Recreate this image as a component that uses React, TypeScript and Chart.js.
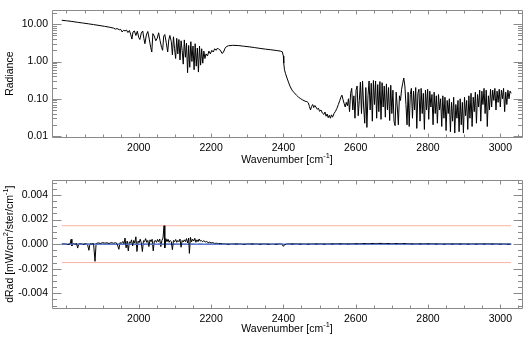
import React, { useEffect, useRef } from "react";
import { Chart, registerables } from "chart.js";
Chart.register(...registerables);

const FONT = "'Liberation Sans', Arial, Helvetica, sans-serif";
const FONT_SIZE = 10.5;
const TEXT = "#000000";
const FRAME = "#8a8a8a";

// ---------- axes ----------
const wavenumberRange = [1760, 3060];
const wavenumberTicks = [2000, 2200, 2400, 2600, 2800, 3000];
const radianceRange = [0.0094, 23.7];
const radianceTicks = [0.01, 0.1, 1, 10];
const radianceTickLabels = ["0.01", "0.10", "1.00", "10.00"];
const dradRange = [-0.0052, 0.0052];
const dradTicks = [-0.004, -0.002, 0, 0.002, 0.004];
const dradTickLabels = ["-0.004", "-0.002", "0.000", "0.002", "0.004"];
const dradLimits = [0.0015, -0.0015];
const dataSpan = [1787, 3030];

// ---------- radiance spectrum [wavenumber, radiance] ----------
const radianceWarm = [
  [1787, 12.8], [1800, 12.4], [1815, 11.9], [1830, 11.3], [1845, 10.8], [1860, 10.3],
  [1875, 9.8], [1890, 9.3], [1905, 8.8], [1920, 8.3], [1930, 7.9], [1936, 7.4],
  [1940, 7.7], [1946, 7.1], [1950, 7.3], [1954, 6.2], [1958, 6.9], [1962, 6.6],
  [1966, 7.0], [1970, 6.0], [1974, 6.8], [1978, 5.2], [1981, 4.0], [1984, 6.2],
  [1988, 6.6], [1992, 5.0], [1996, 6.5], [2000, 4.4], [2003, 3.9], [2007, 5.8],
  [2011, 6.6], [2014, 4.2], [2017, 3.0], [2021, 5.2], [2025, 6.4], [2029, 4.0],
  [2033, 2.4], [2036, 1.8], [2039, 5.6], [2043, 4.8], [2047, 3.6], [2051, 4.2],
  [2055, 5.9], [2059, 3.6], [2063, 2.4], [2066, 2.0], [2069, 4.8], [2072, 5.3],
  [2076, 3.2], [2080, 1.8], [2083, 3.8], [2086, 5.0],
];
const radianceCoBand = [
  [2090, 3.4], [2093, 1.5], [2096, 4.6], [2099, 2.2], [2102, 1.2], [2105, 4.2],
  [2108, 1.6], [2111, 3.9], [2114, 1.1], [2117, 3.6], [2120, 2.0], [2123, 0.85],
  [2126, 3.8], [2129, 1.3], [2132, 3.1], [2135, 0.5], [2138, 2.7], [2141, 0.7],
  [2144, 3.4], [2147, 1.0], [2150, 2.6], [2153, 0.6], [2156, 3.0], [2159, 0.75],
  [2162, 2.3], [2165, 0.52], [2168, 2.6], [2171, 0.8], [2174, 2.2], [2177, 0.9],
  [2180, 1.9], [2183, 1.2], [2186, 1.6], [2190, 1.4], [2194, 1.9], [2198, 1.6],
  [2202, 2.0], [2206, 1.8], [2210, 2.2], [2214, 2.0], [2218, 2.3], [2222, 2.1],
  [2226, 2.0], [2230, 1.65], [2234, 1.75], [2238, 2.2], [2242, 2.5], [2248, 2.65],
];
const radianceEdge = [
  [2260, 2.72], [2275, 2.68], [2290, 2.58], [2305, 2.48], [2320, 2.37], [2335, 2.25],
  [2350, 2.15], [2365, 2.07], [2380, 1.98], [2392, 1.9], [2397, 1.82], [2400, 1.4],
  [2401, 0.9], [2403, 0.6], [2406, 0.47], [2410, 0.36], [2414, 0.28], [2418, 0.22],
  [2424, 0.17], [2430, 0.145], [2436, 0.125], [2442, 0.11], [2448, 0.1], [2454, 0.092],
  [2460, 0.086], [2465, 0.084], [2469, 0.078], [2472, 0.062], [2475, 0.05], [2478, 0.062],
  [2481, 0.07], [2484, 0.058], [2487, 0.066], [2490, 0.06], [2494, 0.052], [2497, 0.056],
  [2500, 0.046], [2504, 0.05], [2508, 0.041], [2512, 0.038], [2515, 0.044], [2518, 0.034],
  [2521, 0.039], [2524, 0.031], [2527, 0.036], [2530, 0.03], [2533, 0.037], [2536, 0.032],
  [2540, 0.04], [2544, 0.046], [2548, 0.055], [2552, 0.07], [2556, 0.09], [2559, 0.11],
  [2562, 0.125], [2565, 0.095], [2568, 0.075], [2571, 0.06], [2574, 0.08], [2577, 0.065],
];
const radianceH2oBand = [
  [2580, 0.1], [2583, 0.045], [2586, 0.14], [2589, 0.19], [2592, 0.05], [2595, 0.12],
  [2598, 0.03], [2601, 0.17], [2604, 0.22], [2607, 0.035], [2610, 0.09], [2613, 0.28],
  [2616, 0.04], [2619, 0.3], [2622, 0.06], [2625, 0.022], [2628, 0.2], [2631, 0.017],
  [2634, 0.12], [2637, 0.3], [2640, 0.05], [2643, 0.26], [2646, 0.025], [2649, 0.31],
  [2652, 0.07], [2655, 0.3], [2658, 0.03], [2661, 0.24], [2664, 0.045], [2667, 0.29],
  [2670, 0.028], [2673, 0.27], [2676, 0.06], [2679, 0.22], [2682, 0.032], [2685, 0.25],
  [2688, 0.05], [2691, 0.2], [2694, 0.026], [2697, 0.23], [2700, 0.04], [2703, 0.17],
  [2706, 0.025], [2709, 0.019], [2712, 0.15], [2715, 0.06], [2718, 0.02], [2721, 0.12],
  [2724, 0.09], [2727, 0.18], [2730, 0.26], [2733, 0.36], [2736, 0.22], [2739, 0.07],
  [2742, 0.02], [2745, 0.15], [2748, 0.018], [2751, 0.13], [2754, 0.19], [2757, 0.03],
  [2760, 0.16], [2763, 0.05], [2766, 0.2], [2769, 0.016], [2772, 0.14], [2775, 0.18],
  [2778, 0.025], [2781, 0.19], [2784, 0.04], [2787, 0.14], [2790, 0.015], [2793, 0.17],
  [2796, 0.05], [2799, 0.18], [2802, 0.028], [2805, 0.16], [2808, 0.06], [2811, 0.13],
  [2814, 0.02], [2817, 0.15], [2820, 0.04], [2823, 0.12], [2826, 0.022], [2829, 0.13],
  [2832, 0.05], [2835, 0.1], [2838, 0.018], [2841, 0.12], [2844, 0.03], [2847, 0.11],
  [2850, 0.014], [2853, 0.09], [2856, 0.04], [2859, 0.1], [2862, 0.013], [2865, 0.08],
  [2868, 0.025], [2871, 0.11], [2874, 0.012], [2877, 0.07], [2880, 0.03], [2883, 0.09],
  [2886, 0.013], [2889, 0.1], [2892, 0.02], [2895, 0.08], [2898, 0.012], [2901, 0.11],
  [2904, 0.035], [2907, 0.09], [2910, 0.015], [2913, 0.12], [2916, 0.03], [2919, 0.14],
  [2922, 0.018], [2925, 0.11], [2928, 0.045], [2931, 0.15], [2934, 0.022], [2937, 0.13],
  [2940, 0.06], [2943, 0.17], [2946, 0.025], [2949, 0.16], [2952, 0.07], [2955, 0.19],
  [2958, 0.04], [2961, 0.17], [2964, 0.018], [2967, 0.12], [2970, 0.05], [2973, 0.18],
  [2976, 0.06], [2979, 0.17], [2982, 0.09], [2985, 0.19], [2988, 0.05], [2991, 0.16],
  [2994, 0.08], [2997, 0.18], [3000, 0.06], [3003, 0.17], [3006, 0.1], [3009, 0.19],
  [3012, 0.045], [3015, 0.15], [3018, 0.07], [3021, 0.17], [3024, 0.1], [3027, 0.16],
  [3030, 0.14],
];

// ---------- residual dRad [wavenumber, dRad] ----------
const residualLow = [
  [1787, 0], [1795, 0.00002], [1803, -0.00003], [1810, 0.00001], [1813, 0.0004], [1815, -0.00015],
  [1818, 0.00003], [1824, 0], [1828, 0.00005], [1831, -0.00032], [1834, 0.00002], [1840, 0.00004],
  [1846, -0.00002], [1852, 0.00003], [1858, 0.00001], [1862, -0.0005], [1865, 0.00003], [1870, 0.00002],
  [1875, 0.00004], [1879, -0.0014], [1882, 0.00005], [1888, 0.0001], [1894, 0.00006], [1900, 0.00012],
  [1906, 0.00008], [1912, 0.00011], [1918, 0.00005], [1924, 0.00013], [1930, 0.00007], [1936, 0.00012],
  [1940, 0.00004], [1945, -0.00042], [1948, 0.00012], [1952, 0.00006], [1956, 0.00022], [1959, 0.00004],
  [1962, 0.0005], [1965, -0.0003], [1968, 0.00025], [1971, -0.00055], [1974, 0.00018], [1977, 0.0001],
  [1980, 0.00035], [1983, -0.00015], [1986, 0.0003], [1989, 0.0001], [1992, 0.0006], [1995, -0.0006],
  [1998, 0.00025], [2001, 0.00012], [2004, 0.0004], [2007, 0.0001], [2010, -0.0006], [2013, 0.00028],
  [2016, 0.0002], [2019, 0.00045], [2022, 0.00015], [2025, 0.0003], [2028, -0.0002], [2031, 0.00035],
  [2034, 0.0002], [2037, 0.0004], [2040, -0.00055], [2043, 0.00025], [2046, 0.0003], [2049, 0.00015],
  [2052, 0.00038], [2055, 0.0002], [2058, 0.00042], [2061, -0.0002], [2064, 0.0003], [2067, 0.0005],
  [2070, 0.0015], [2072, -0.0003], [2075, 0.00045], [2078, 0.0002], [2081, 0.0004], [2084, 0.00015],
];
const residualMid = [
  [2087, 0.0003], [2090, 0.0002], [2093, -0.00045], [2096, 0.0003], [2099, 0.0002], [2102, 0.00038],
  [2105, 0.00015], [2108, 0.0003], [2111, 0.0002], [2114, 0.00042], [2117, -0.00025], [2120, 0.0003],
  [2123, 0.00018], [2126, 0.00035], [2129, 0.0002], [2132, 0.00045], [2135, 0.0001], [2138, 0.0005],
  [2140, -0.00075], [2143, 0.00055], [2146, 0.0002], [2149, 0.0004], [2152, 0.00025], [2155, 0.00048],
  [2158, 0.00015], [2161, 0.00035], [2164, 0.0002], [2167, 0.00042], [2170, 0.00025], [2173, 0.0003],
  [2176, 0.0002], [2180, 0.00028], [2184, 0.00018], [2188, 0.00022], [2192, 0.00012], [2196, 0.00016],
  [2200, 0.0001], [2205, 0.00012], [2210, 0.00006], [2215, 0.00008], [2220, 0.00004], [2225, 0.00005],
  [2232, 0.00002], [2240, 0.00001],
];
const residualHigh = [
  [2250, 0], [2270, 0.00002], [2290, -0.00001], [2310, 0.00002], [2330, 0], [2350, 0.00001],
  [2370, -0.00001], [2390, 0.00001], [2396, 0], [2400, -0.00018], [2403, -0.00005], [2410, 0.00001],
  [2430, 0.00002], [2460, 0], [2490, 0.00002], [2520, 0.00001], [2550, 0.00003], [2580, 0.00002],
  [2610, 0.00004], [2640, 0.00005], [2670, 0.00006], [2700, 0.00004], [2730, 0.00005], [2760, 0.00002],
  [2800, 0.00003], [2840, 0.00001], [2880, 0.00002], [2920, 0.00001], [2960, 0.00002], [3000, 0.00001],
  [3030, 0],
];

const radianceSeries = [...radianceWarm, ...radianceCoBand, ...radianceEdge, ...radianceH2oBand];
const residualSeries = [...residualLow, ...residualMid, ...residualHigh];

const toXY = (arr: number[][]) => arr.map(([x, y]) => ({ x, y }));

type Part = { t: string; sup?: boolean };

function drawRich(ctx: CanvasRenderingContext2D, parts: Part[], cx: number, cy: number, rotate: boolean) {
  ctx.save();
  ctx.translate(cx, cy);
  if (rotate) ctx.rotate(-Math.PI / 2);
  const supSize = FONT_SIZE * 0.7;
  let total = 0;
  const widths = parts.map((p) => {
    ctx.font = `${p.sup ? supSize : FONT_SIZE}px ${FONT}`;
    const w = ctx.measureText(p.t).width;
    total += w;
    return w;
  });
  let x = -total / 2;
  ctx.textBaseline = "middle";
  ctx.textAlign = "left";
  ctx.fillStyle = TEXT;
  parts.forEach((p, i) => {
    ctx.font = `${p.sup ? supSize : FONT_SIZE}px ${FONT}`;
    ctx.fillText(p.t, x, p.sup ? -FONT_SIZE * 0.38 : 0);
    x += widths[i];
  });
  ctx.restore();
}

const idlFrame = {
  id: "idlFrame",
  afterDatasetsDraw(chart: any, _args: any, opts: any) {
    const { ctx, chartArea: a, scales } = chart;
    const xs = scales.x;
    const ys = scales.y;
    const L = Math.round(a.left) + 0.5;
    const R = Math.round(a.right) + 0.5;
    const T = Math.round(a.top) + 0.5;
    const B = Math.round(a.bottom) + 0.5;
    ctx.save();
    ctx.strokeStyle = FRAME;
    ctx.lineWidth = 1;
    ctx.beginPath();
    ctx.moveTo(L, T); ctx.lineTo(R, T); ctx.lineTo(R, B); ctx.lineTo(L, B); ctx.closePath();
    const xt = (v: number, len: number) => {
      const p = Math.round(xs.getPixelForValue(v)) + 0.5;
      if (p < L || p > R) return;
      ctx.moveTo(p, B); ctx.lineTo(p, B - len);
      ctx.moveTo(p, T); ctx.lineTo(p, T + len);
    };
    const yt = (v: number, len: number) => {
      const p = Math.round(ys.getPixelForValue(v)) + 0.5;
      if (p < T - 0.1 || p > B + 0.1) return;
      ctx.moveTo(L, p); ctx.lineTo(L + len, p);
      ctx.moveTo(R, p); ctx.lineTo(R - len, p);
    };
    opts.xMinor.forEach((v: number) => xt(v, 3));
    opts.xMajor.forEach((v: number) => xt(v, 4));
    opts.yMinor.forEach((v: number) => yt(v, 4.5));
    opts.yMajor.forEach((v: number) => yt(v, 9));
    ctx.stroke();
    ctx.restore();
    drawRich(ctx, opts.xTitle, (a.left + a.right) / 2, opts.xTitleY, false);
    drawRich(ctx, opts.yTitle, opts.yTitleX, (a.top + a.bottom) / 2, true);
  },
};

const xMinorTicks: number[] = [];
for (let v = 1800; v <= 3050; v += 50) xMinorTicks.push(v);
const logMinorTicks: number[] = [];
[0.001, 0.01, 0.1, 1, 10].forEach((d) => {
  for (let m = 2; m <= 9; m++) logMinorTicks.push(d * m);
});
const dradMinorTicks: number[] = [];
for (let k = -10; k <= 10; k++) dradMinorTicks.push(k * 0.0005);

const tickFont = { family: FONT, size: FONT_SIZE };

const xTitle: Part[] = [{ t: "Wavenumber [cm" }, { t: "-1", sup: true }, { t: "]" }];

function xScale(height: number, pad: number) {
  return {
    type: "linear",
    min: wavenumberRange[0],
    max: wavenumberRange[1],
    grid: { display: false, drawTicks: false },
    border: { display: false },
    afterBuildTicks: (s: any) => {
      s.ticks = wavenumberTicks.map((v) => ({ value: v }));
    },
    afterFit: (s: any) => {
      s.height = height;
    },
    ticks: {
      autoSkip: false,
      maxRotation: 0,
      padding: pad,
      color: TEXT,
      font: tickFont,
      callback: (v: number) => String(v),
    },
  };
}

function App() {
  const topRef = useRef<HTMLCanvasElement>(null);
  const botRef = useRef<HTMLCanvasElement>(null);

  useEffect(() => {
    document.body.style.margin = "0";
    const top = new Chart(topRef.current!, {
      type: "line",
      data: {
        datasets: [
          {
            data: toXY(radianceSeries),
            borderColor: "#000000",
            borderWidth: 1,
            pointRadius: 0,
            tension: 0,
          },
        ],
      },
      options: {
        animation: false,
        responsive: false,
        devicePixelRatio: 1,
        events: [],
        layout: { padding: { top: 10, right: 9, left: 0, bottom: 0 } },
        plugins: {
          legend: { display: false },
          tooltip: { enabled: false },
          idlFrame: {
            xMajor: wavenumberTicks,
            xMinor: xMinorTicks,
            yMajor: radianceTicks,
            yMinor: logMinorTicks,
            xTitle,
            xTitleY: 160,
            yTitle: [{ t: "Radiance" }],
            yTitleX: 10.5,
          },
        } as any,
        scales: {
          x: xScale(33, 5) as any,
          y: {
            type: "logarithmic",
            min: radianceRange[0],
            max: radianceRange[1],
            grid: { display: false, drawTicks: false },
            border: { display: false },
            afterBuildTicks: (s: any) => {
              s.ticks = radianceTicks.map((v) => ({ value: v }));
            },
            afterFit: (s: any) => {
              s.width = 52;
            },
            ticks: {
              autoSkip: false,
              padding: 4,
              color: TEXT,
              font: tickFont,
              callback: (_v: any, i: number) => radianceTickLabels[i],
            },
          },
        },
      },
      plugins: [idlFrame],
    });

    const bot = new Chart(botRef.current!, {
      type: "line",
      data: {
        datasets: [
          {
            data: toXY([[dataSpan[0], 0], [dataSpan[1], 0]]),
            borderColor: "rgba(90,120,205,0.9)",
            borderWidth: 1.5,
            borderDash: [5, 3],
            pointRadius: 0,
          },
          {
            data: toXY(residualSeries),
            borderColor: "#000000",
            borderWidth: 1,
            pointRadius: 0,
            tension: 0,
          },
          {
            data: toXY([[dataSpan[0], 0], [dataSpan[1], 0]]),
            borderColor: "rgb(95,125,205)",
            borderWidth: 1.5,
            pointRadius: 0,
          },
          {
            data: toXY([[dataSpan[0], dradLimits[0]], [dataSpan[1], dradLimits[0]]]),
            borderColor: "#f7b3a6",
            borderWidth: 1,
            pointRadius: 0,
          },
          {
            data: toXY([[dataSpan[0], dradLimits[1]], [dataSpan[1], dradLimits[1]]]),
            borderColor: "#f7b3a6",
            borderWidth: 1,
            pointRadius: 0,
          },
        ],
      },
      options: {
        animation: false,
        responsive: false,
        devicePixelRatio: 1,
        events: [],
        layout: { padding: { top: 9, right: 9, left: 0, bottom: 0 } },
        plugins: {
          legend: { display: false },
          tooltip: { enabled: false },
          idlFrame: {
            xMajor: wavenumberTicks,
            xMinor: xMinorTicks,
            yMajor: dradTicks,
            yMinor: dradMinorTicks,
            xTitle,
            xTitleY: 159,
            yTitle: [
              { t: "dRad [mW/cm" },
              { t: "2", sup: true },
              { t: "/ster/cm" },
              { t: "-1", sup: true },
              { t: "]" },
            ],
            yTitleX: 10,
          },
        } as any,
        scales: {
          x: xScale(32, 5) as any,
          y: {
            type: "linear",
            min: dradRange[0],
            max: dradRange[1],
            grid: { display: false, drawTicks: false },
            border: { display: false },
            afterBuildTicks: (s: any) => {
              s.ticks = dradTicks.map((v) => ({ value: v }));
            },
            afterFit: (s: any) => {
              s.width = 52;
            },
            ticks: {
              autoSkip: false,
              padding: 4,
              color: TEXT,
              font: tickFont,
              callback: (_v: any, i: number) => dradTickLabels[i],
            },
          },
        },
      },
      plugins: [idlFrame],
    });

    return () => {
      top.destroy();
      bot.destroy();
    };
  }, []);

  return (
    <div style={{ position: "fixed", left: 0, top: 0, width: 531, height: 340, background: "#fff" }}>
      <canvas ref={topRef} width={531} height={170} style={{ display: "block", width: 531, height: 170 }} />
      <canvas ref={botRef} width={531} height={170} style={{ display: "block", width: 531, height: 170 }} />
    </div>
  );
}

export default App;
